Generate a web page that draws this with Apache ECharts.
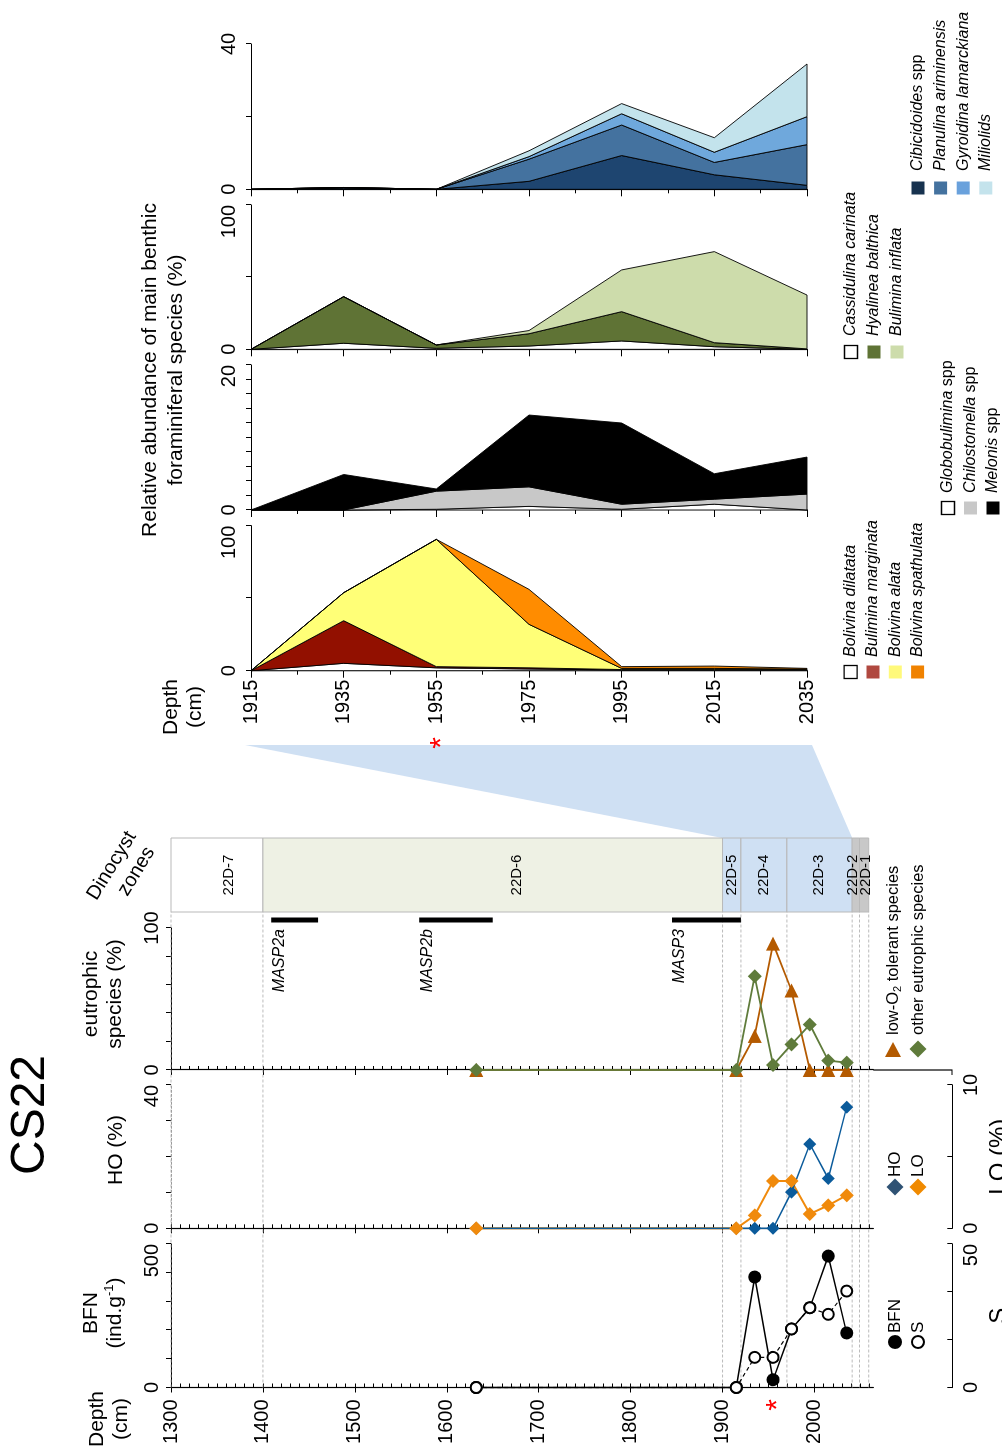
<!DOCTYPE html>
<html>
<head>
<meta charset="utf-8">
<script src="https://cdn.jsdelivr.net/npm/echarts@6/dist/echarts.min.js"></script>
<style>
html,body{margin:0;padding:0;background:#fff;overflow:hidden;width:1002px;height:1450px;}
#wrap{position:absolute;left:0;top:0;width:1450px;height:1002px;transform-origin:0 0;transform:translate(0,1450px) rotate(-90deg);}
#chart{width:1450px;height:1002px;}
</style>
</head>
<body>
<div id="wrap"><div id="chart"></div></div>
<script>
// ================= DATA =================
// Upper panels: relative abundance (%) of main benthic foraminiferal species
const upperDepths = [1915, 1935, 1955, 1975, 1995, 2015, 2035];
const upperDepthLabels = [1915, 1935, 1955, 1975, 1995, 2015, 2035];

const panel1Names = ['Cibicidoides spp', 'Planulina ariminensis', 'Gyroidina lamarckiana', 'Miliolids'];
const cibicidoides = [0, 0.3, 0, 2.2, 9.3, 4.0, 1.1];
const planulina = [0, 0.2, 0, 6.1, 8.4, 3.4, 11.2];
const gyroidina = [0, 0, 0, 0.7, 3.1, 2.8, 7.7];
const miliolids = [0, 0, 0, 1.6, 2.8, 4.0, 14.5];

const panel2Names = ['Cassidulina carinata', 'Hyalinea balthica', 'Bulimina inflata'];
const cassidulina = [0, 4.2, 0.7, 2.3, 5.8, 1.8, 0];
const hyalinea = [0, 32.3, 2.3, 8.5, 20.3, 2.8, 0.3];
const buliminaInflata = [0, 0, 0, 2.2, 28.9, 63.1, 37.3];

const panel3Names = ['Globobulimina spp', 'Chilostomella spp', 'Melonis spp'];
const globobulimina = [0, 0, 0.1, 0.5, 0.1, 0.8, 0];
const chilostomella = [0, 0, 2.5, 2.7, 0.7, 0.7, 2.2];
const melonis = [0, 4.9, 0.3, 9.9, 11.2, 3.5, 5.1];

const panel4Names = ['Bolivina dilatata', 'Bulimina marginata', 'Bolivina alata', 'Bolivina spathulata'];
const bolivinaDilatata = [0, 5.1, 2.0, 1.2, 0.5, 0.5, 0.5];
const buliminaMarginata = [0, 29.4, 0.8, 0.8, 0.3, 0.3, 0.3];
const bolivinaAlata = [0, 19.3, 87.8, 30.0, 0.8, 0.8, 0.3];
const bolivinaSpathulata = [0, 0, 0, 24.1, 1.2, 1.6, 0.5];

// Lower panels
const lowerDepths = [1632, 1915, 1935, 1955, 1975, 1995, 2015, 2035];
const lowerDepthLabels = [1300, 1400, 1500, 1600, 1700, 1800, 1900, 2000];
const bfn = [0, 0, 385, 27, 204, 278, 458, 190];
const speciesS = [0, 0, 10.5, 10.5, 20.4, 27.8, 25.5, 33.6];
const hoPct = [0, 0, 0, 0, 10.1, 23.5, 13.9, 33.8];
const loPct = [0, 0, 0.9, 3.3, 3.3, 1.0, 1.6, 2.3];
const lowO2 = [0, 0, 24, 89, 56, 0, 0, 0];
const otherEutrophic = [0, 0, 66, 3.5, 18, 32, 6.6, 5.2];

// Dinocyst zones
const zoneNames = ['22D-7', '22D-6', '22D-5', '22D-4', '22D-3', '22D-2', '22D-1'];
const zoneTops = [1300, 1400, 1900, 1920, 1970, 2041, 2049];
const zoneBottoms = [1400, 1900, 1920, 1970, 2041, 2049, 2059];
const zoneLabelDepths = [1363, 1676, 1910, 1945, 2005, 2042, 2056];

// MASP intervals
const maspNames = ['MASP2a', 'MASP2b', 'MASP3'];
const maspTops = [1409, 1570, 1845];
const maspBottoms = [1460, 1650, 1920];

// Expanded interval link and marked sample
const linkUpperRange = [1915, 2035];
const linkLowerRange = [1900, 2041];
const markedDepth = 1955;

// ================= STYLE / LAYOUT =================
const FONT = '"Liberation Sans", Arial, Helvetica, sans-serif';
const panel1Colors = ['#1e4570', '#44729f', '#6fa8dc', '#c3e3ec'];
const panel1Legend = ['#17324f', '#44729f', '#69a1dc', '#c4e3ec'];
const panel2Colors = ['#ffffff', '#5f7335', '#cddcab'];
const panel2Legend = ['#ffffff', '#5f7335', '#cddcab'];
const panel3Colors = ['#ffffff', '#c8c8c8', '#000000'];
const panel3Legend = ['#ffffff', '#c8c8c8', '#000000'];
const panel4Colors = ['#ffffff', '#921000', '#ffff77', '#ff8c00'];
const panel4Legend = ['#ffffff', '#b0483f', '#fff97a', '#f08200'];
const zoneColors = ['#ffffff', '#eef1e4', '#cfe0f3', '#cfe0f3', '#cfe0f3', '#c8c8c8', '#c8c8c8'];

const LOW_TOP = 171, LOW_H = 702.3, LOW_MIN = 1300, LOW_MAX = 2064;
const UP_TOP = 251, UP_H = 556;

function range(a, b, s) { const r = []; for (let v = a; v <= b + 1e-9; v += s) r.push(+v.toFixed(6)); return r; }
const fmt = v => String(Math.round(v * 1000) / 1000);

const grids = [], xAxes = [], yAxes = [], series = [];
function addGrid(left, top, width, height) {
  grids.push({ left, top, width, height, containLabel: false, outerBoundsMode: 'none' });
  return grids.length - 1;
}

function valueAxis(gridIndex, position, max, tickVals, labelVals, o) {
  o = o || {};
  const label = { show: true, customValues: labelVals, fontSize: 20, fontFamily: FONT, color: '#000', margin: o.margin || 9, formatter: fmt };
  if (o.alignMax) label.alignMaxLabel = o.alignMax;
  xAxes.push({
    type: 'value', gridIndex, position, min: 0, max, offset: o.offset || 0,
    name: o.name || '', nameLocation: 'middle', nameGap: o.nameGap || 30,
    nameTextStyle: { fontSize: 24, fontFamily: FONT, color: '#000', verticalAlign: 'top' },
    axisLine: { show: true, onZero: false, lineStyle: o.lineStyle || { color: '#000', width: 1.2 } },
    axisTick: { show: true, inside: !!o.inside, length: 5, customValues: tickVals, lineStyle: { color: '#000', width: 1 } },
    axisLabel: label,
    splitLine: { show: false }
  });
  return xAxes.length - 1;
}
function depthAxes(gridIndex, min, max, minorVals, majorVals, labelVals, showLabels, inside, majorLen, margin) {
  yAxes.push({
    type: 'value', gridIndex, inverse: true, min, max, position: 'left',
    axisLine: { show: true, onZero: false, lineStyle: { color: '#000', width: 1.2 } },
    axisTick: { show: true, inside, length: 4, customValues: minorVals, lineStyle: { color: '#000', width: 1 } },
    axisLabel: { show: showLabels, customValues: labelVals, fontSize: 20, fontFamily: FONT, color: '#000', margin, formatter: fmt },
    splitLine: { show: false }
  });
  const mi = yAxes.length - 1;
  yAxes.push({
    type: 'value', gridIndex, inverse: true, min, max, position: 'left',
    axisLine: { show: false, onZero: false },
    axisTick: { show: true, inside: false, length: majorLen, customValues: majorVals, lineStyle: { color: '#000', width: 1 } },
    axisLabel: { show: false }, splitLine: { show: false }
  });
  return mi;
}

// ---- lower grids ----
const gBFN = addGrid(62.5, LOW_TOP, 143.5, LOW_H);
const gHO = addGrid(221.7, LOW_TOP, 143.3, LOW_H);
const gEU = addGrid(380, LOW_TOP, 142, LOW_H);
const gBand = addGrid(538, LOW_TOP, 74, LOW_H);
// ---- upper grids ----
const gP4 = addGrid(779.3, UP_TOP, 145, UP_H);
const gP3 = addGrid(940, UP_TOP, 145, UP_H);
const gP2 = addGrid(1100.7, UP_TOP, 144.3, UP_H);
const gP1 = addGrid(1260.7, UP_TOP, 145.3, UP_H);

const lowMinor = range(1300, 2060, 10);
const xBFN = valueAxis(gBFN, 'top', 500, range(0, 500, 100), [0, 500], { alignMax: 'right' });
const xS = valueAxis(gBFN, 'bottom', 50, [0, 50 / 3, 100 / 3, 50], [0, 50], { offset: 79, inside: true, name: 'S', nameGap: 35, margin: 9, alignMax: 'right' });
const xHO = valueAxis(gHO, 'top', 40, range(0, 40, 10), [0, 40], { lineStyle: { color: '#9a9a9a', width: 1, type: [2, 2] }, alignMax: 'right' });
const xLO = valueAxis(gHO, 'bottom', 10, [0, 5, 10], [0, 10], { offset: 79, inside: true, name: 'LO (%)', nameGap: 35, margin: 9 });
const xEU = valueAxis(gEU, 'top', 100, range(0, 100, 20), [0, 100]);
xAxes.push({ type: 'value', gridIndex: gBand, min: 0, max: 1, show: false });
const xBand = xAxes.length - 1;
const xP4 = valueAxis(gP4, 'top', 100, [0, 50, 100], [0, 100], { margin: 12, alignMax: 'right' });
const xP3 = valueAxis(gP3, 'top', 20, range(0, 20, 2), [0, 20], { margin: 12, alignMax: 'right' });
const xP2 = valueAxis(gP2, 'top', 100, [0, 50, 100], [0, 100], { margin: 12, alignMax: 'right' });
const xP1 = valueAxis(gP1, 'top', 40, [0, 20, 40], [0, 40], { margin: 12 });

const yBFN = depthAxes(gBFN, LOW_MIN, LOW_MAX, lowMinor, lowerDepthLabels, lowerDepthLabels, true, true, 5, 12);
const yHO = depthAxes(gHO, LOW_MIN, LOW_MAX, lowMinor, lowerDepthLabels, lowerDepthLabels, false, true, 5, 12);
const yEU = depthAxes(gEU, LOW_MIN, LOW_MAX, lowMinor, lowerDepthLabels, lowerDepthLabels, false, true, 5, 12);
yAxes.push({ type: 'value', gridIndex: gBand, inverse: true, min: LOW_MIN, max: LOW_MAX, show: false });
const yBand = yAxes.length - 1;
const upMinor = range(1915, 2035, 10);
const yP4 = depthAxes(gP4, 1915, 2035, upMinor, upperDepthLabels, upperDepthLabels, true, false, 7, 9);
const yP3 = depthAxes(gP3, 1915, 2035, upMinor, upperDepthLabels, upperDepthLabels, false, false, 7, 9);
const yP2 = depthAxes(gP2, 1915, 2035, upMinor, upperDepthLabels, upperDepthLabels, false, false, 7, 9);
const yP1 = depthAxes(gP1, 1915, 2035, upMinor, upperDepthLabels, upperDepthLabels, false, false, 7, 9);

// ---- boundary dashed lines (under everything) ----
const boundaryDepths = zoneTops.concat([zoneBottoms[zoneBottoms.length - 1]]);
series.push({
  type: 'custom', name: 'zone boundaries', xAxisIndex: xBand, yAxisIndex: yBand, z: 1, silent: true,
  data: boundaryDepths.map(d => [0, d]), encode: { x: 0, y: 1 },
  renderItem: function (params, api) {
    const p = api.coord([0, api.value(1)]);
    return { type: 'line', shape: { x1: 62.5, y1: p[1], x2: p[0], y2: p[1] },
      style: { stroke: '#a9a9a9', lineWidth: 0.8, lineDash: [3, 2] } };
  }
});

// ---- dinocyst zone band ----
series.push({
  type: 'custom', name: 'Dinocyst zones', xAxisIndex: xBand, yAxisIndex: yBand, z: 3, silent: true,
  data: zoneNames.map((n, i) => [zoneTops[i], zoneBottoms[i], zoneLabelDepths[i], i]),
  encode: { y: [0, 1] },
  renderItem: function (params, api) {
    const i = api.value(3);
    const a = api.coord([0, api.value(0)]), b = api.coord([1, api.value(1)]);
    const c = api.coord([0.5, api.value(2)]);
    return { type: 'group', children: [
      { type: 'rect', shape: { x: a[0], y: a[1], width: b[0] - a[0], height: b[1] - a[1] },
        style: { fill: zoneColors[i], stroke: '#b9b9b9', lineWidth: 1 }, z2: 1 },
      { type: 'text', x: c[0], y: c[1], z2: 10,
        style: { text: zoneNames[i], align: 'center', verticalAlign: 'middle', fontSize: 15, fontFamily: FONT, fill: '#000' } }
    ] };
  }
});

// ---- MASP bars ----
series.push({
  type: 'custom', name: 'MASP', xAxisIndex: xEU, yAxisIndex: yEU, z: 3, silent: true, clip: false,
  data: maspNames.map((n, i) => [100, maspTops[i], maspBottoms[i], i]), encode: { x: 0, y: [1, 2] },
  renderItem: function (params, api) {
    const i = api.value(3);
    const a = api.coord([100, api.value(1)]), b = api.coord([100, api.value(2)]);
    return { type: 'group', children: [
      { type: 'line', shape: { x1: a[0] + 8, y1: a[1], x2: b[0] + 8, y2: b[1] }, style: { stroke: '#000', lineWidth: 5 } },
      { type: 'text', x: a[0] - 1, y: a[1] + 8,
        style: { text: maspNames[i], align: 'right', verticalAlign: 'middle', fontSize: 16, fontStyle: 'italic', fontFamily: FONT, fill: '#000' } }
    ] };
  }
});

// ---- lower line series ----
function pts(vals) { return lowerDepths.map((d, i) => [vals[i], d]); }
const common = { type: 'line', clip: false, animation: false, silent: true };
series.push(Object.assign({}, common, { name: 'BFN', xAxisIndex: xBFN, yAxisIndex: yBFN, data: pts(bfn), z: 4,
  symbol: 'circle', symbolSize: 13, itemStyle: { color: '#000' }, lineStyle: { color: '#000', width: 1.5 } }));
series.push(Object.assign({}, common, { name: 'S', xAxisIndex: xS, yAxisIndex: yBFN, data: pts(speciesS), z: 5,
  symbol: 'circle', symbolSize: 11, itemStyle: { color: '#fff', borderColor: '#000', borderWidth: 2 },
  lineStyle: { color: '#000', width: 1.2, type: [4, 3] } }));
// LO line under HO, LO markers over HO markers
series.push(Object.assign({}, common, { name: 'LO line', xAxisIndex: xLO, yAxisIndex: yHO, data: pts(loPct), z: 3,
  showSymbol: false, symbol: 'none', lineStyle: { color: '#f08a0c', width: 2 } }));
series.push(Object.assign({}, common, { name: 'HO', xAxisIndex: xHO, yAxisIndex: yHO, data: pts(hoPct), z: 4,
  symbol: 'diamond', symbolSize: 13, itemStyle: { color: '#0b5b9b' }, lineStyle: { color: '#0b5b9b', width: 1.5 } }));
series.push(Object.assign({}, common, { name: 'LO', xAxisIndex: xLO, yAxisIndex: yHO, data: pts(loPct), z: 5,
  symbol: 'diamond', symbolSize: 14, itemStyle: { color: '#f08a0c' }, lineStyle: { width: 0, opacity: 0 } }));
series.push(Object.assign({}, common, { name: 'low-O2 tolerant species', xAxisIndex: xEU, yAxisIndex: yEU, data: pts(lowO2), z: 3,
  symbol: 'triangle', symbolRotate: -90, symbolSize: 14, itemStyle: { color: '#b45a00' }, lineStyle: { color: '#b45a00', width: 1.8 } }));
series.push(Object.assign({}, common, { name: 'other eutrophic species', xAxisIndex: xEU, yAxisIndex: yEU, data: pts(otherEutrophic), z: 4,
  symbol: 'diamond', symbolSize: 14, itemStyle: { color: '#5f7b3b' }, lineStyle: { color: '#5f7b3b', width: 1.8 } }));

// ---- upper stacked areas ----
function addStack(names, valueArrays, colors, xi, yi) {
  let cum = upperDepths.map(() => 0);
  valueArrays.forEach((vals, j) => {
    const lower = cum.slice();
    const upper = cum.map((c, i) => c + vals[i]);
    cum = upper;
    series.push({
      type: 'custom', name: names[j], xAxisIndex: xi, yAxisIndex: yi, z: 3 + j * 0.01, silent: true,
      data: upperDepths.map((d, i) => [lower[i], upper[i], d]), encode: { x: [0, 1], y: 2 },
      renderItem: function (params, api) {
        if (params.dataIndex !== 0) return null;
        const p = [];
        for (let i = 0; i < upperDepths.length; i++) p.push(api.coord([upper[i], upperDepths[i]]));
        for (let i = upperDepths.length - 1; i >= 0; i--) p.push(api.coord([lower[i], upperDepths[i]]));
        return { type: 'polygon', shape: { points: p }, style: { fill: colors[j], stroke: '#000', lineWidth: 0.9, lineJoin: 'round' } };
      }
    });
  });
}
addStack(panel1Names, [cibicidoides, planulina, gyroidina, miliolids], panel1Colors, xP1, yP1);
addStack(panel2Names, [cassidulina, hyalinea, buliminaInflata], panel2Colors, xP2, yP2);
addStack(panel3Names, [globobulimina, chilostomella, melonis], panel3Colors, xP3, yP3);
addStack(panel4Names, [bolivinaDilatata, buliminaMarginata, bolivinaAlata, bolivinaSpathulata], panel4Colors, xP4, yP4);

const chart = echarts.init(document.getElementById('chart'), null, { renderer: 'canvas', width: 1450, height: 1002 });
chart.setOption({ animation: false, backgroundColor: '#fff', textStyle: { fontFamily: FONT },
  grid: grids, xAxis: xAxes, yAxis: yAxes, series: series });

// ================= GRAPHIC (titles, legends, link) =================
function T(x, y, text, o, rot) {
  const e = { type: 'text', x, y, z: 20, style: Object.assign({ text, fontFamily: FONT, fontSize: 21, fill: '#000', align: 'center', verticalAlign: 'middle' }, o || {}) };
  if (rot) e.rotation = rot;
  return e;
}
function speciesRich(name) {
  if (/ spp$/.test(name)) return '{i|' + name.replace(/ spp$/, '') + '} {n|spp}';
  return '{i|' + name + '}';
}
const LFS = 16;
const richSp = { i: { fontStyle: 'italic', fontSize: LFS, fontFamily: FONT }, n: { fontSize: LFS, fontFamily: FONT } };
function speciesLegend(names, colors, sx, sy0, dy, tx) {
  const out = [];
  names.forEach((n, i) => {
    const y = sy0 + i * dy;
    out.push({ type: 'rect', z: 20, shape: { x: sx - 6.5, y: y - 6.5, width: 13, height: 13 },
      style: { fill: colors[i], stroke: colors[i] === '#ffffff' ? '#000' : null, lineWidth: 1.3 } });
    out.push(T(tx, y, speciesRich(n), { align: 'left', fontSize: LFS, rich: richSp }));
  });
  return out;
}
function diamond(cx, cy, r, fill) {
  return { type: 'polygon', z: 20, shape: { points: [[cx - r, cy], [cx, cy - r], [cx + r, cy], [cx, cy + r]] }, style: { fill } };
}

const yUp1 = chart.convertToPixel({ yAxisIndex: yP4 }, linkUpperRange[0]);
const yUp2 = chart.convertToPixel({ yAxisIndex: yP4 }, linkUpperRange[1]);
const yLo1 = chart.convertToPixel({ yAxisIndex: yBand }, linkLowerRange[0]);
const yLo2 = chart.convertToPixel({ yAxisIndex: yBand }, linkLowerRange[1]);
const yMarkUp = chart.convertToPixel({ yAxisIndex: yP4 }, markedDepth);
const yMarkLo = chart.convertToPixel({ yAxisIndex: yBFN }, markedDepth);

const g = [];
// link wedge
g.push({ type: 'polygon', z: 0, shape: { points: [[705, yUp1 - 6], [705, yUp2 + 5], [612, yLo2], [612, yLo1]] }, style: { fill: '#cfe0f3' } });
// eutrophic axis extension
g.push({ type: 'polyline', z: 5, shape: { points: [[380, LOW_TOP + LOW_H], [380, 952], [375, 952]] }, style: { stroke: '#000', lineWidth: 1.2 } });
// title
g.push(T(335, 31, 'CS22', { fontSize: 48 }));
// lower axis titles
g.push(T(31, 97, 'Depth'), T(31, 121, '(cm)'));
g.push(T(137, 91, 'BFN'));
g.push(T(137, 115, '(ind.g{s|-1})', { rich: { s: { fontSize: 13, fontFamily: FONT, padding: [0, 0, 12, 0] } } }));
g.push(T(300, 116, 'HO (%)'));
g.push(T(456, 91, 'eutrophic'), T(456, 115, 'species (%)'));
// rotated column header (two parallel lines)
g.push({ type: 'group', x: 578, y: 122, rotation: -0.55, z: 20, children: [
  T(0, -12, 'Dinocyst', { fontSize: 20 }),
  T(8, 12, 'zones', { fontSize: 20 })
] });
// upper titles
g.push(T(743, 171, 'Depth'), T(743, 195, '(cm)'));
g.push(T(1080, 150, 'Relative abundance of main benthic'), T(1080, 176, 'foraminiferal species (%)'));
// asterisks
g.push(T(707, yMarkUp + 5, '*', { fill: '#ff0000', fontSize: 30 }));
g.push(T(45, yMarkLo + 5, '*', { fill: '#ff0000', fontSize: 30 }));
// lower legends
g.push({ type: 'circle', z: 20, shape: { cx: 108, cy: 895, r: 7 }, style: { fill: '#000' } });
g.push(T(117, 895, 'BFN', { align: 'left', fontSize: 17 }));
g.push({ type: 'circle', z: 20, shape: { cx: 108, cy: 918, r: 6 }, style: { fill: '#fff', stroke: '#000', lineWidth: 2 } });
g.push(T(117, 918, 'S', { align: 'left', fontSize: 17 }));
g.push(diamond(263, 895, 8.5, '#2f5274'));
g.push(T(273, 895, 'HO', { align: 'left', fontSize: 17 }));
g.push(diamond(263, 918, 8.5, '#f08a00'));
g.push(T(273, 918, 'LO', { align: 'left', fontSize: 17 }));
g.push({ type: 'polygon', z: 20, shape: { points: [[393, 885], [393, 901], [408, 893]] }, style: { fill: '#b35a00' } });
g.push(T(415, 893, 'low-O{b|2} tolerant species', { align: 'left', fontSize: 16.5, rich: { b: { fontSize: 11, fontFamily: FONT, padding: [9, 0, 0, 0] } } }));
g.push(diamond(401, 918, 8.5, '#5f7b3b'));
g.push(T(415, 918, 'other eutrophic species', { align: 'left', fontSize: 16.5 }));
// upper legends
speciesLegend(panel4Names, panel4Legend, 778, 850.7, 22.3, 793).forEach(e => g.push(e));
speciesLegend(panel3Names, panel3Legend, 942, 948, 22.5, 957).forEach(e => g.push(e));
speciesLegend(panel2Names, panel2Legend, 1098, 851, 23, 1114).forEach(e => g.push(e));
speciesLegend(panel1Names, panel1Legend, 1262, 918, 22.6, 1279).forEach(e => g.push(e));

chart.setOption({ graphic: { elements: g } });
</script>
</body>
</html>
